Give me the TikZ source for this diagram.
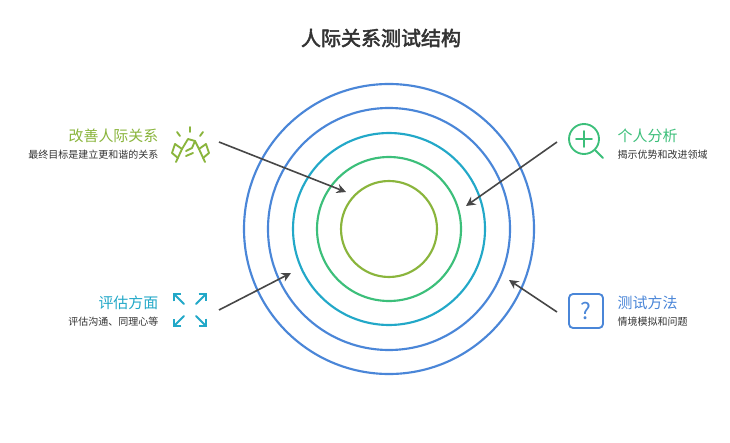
\documentclass[tikz,border=0pt]{standalone}
\usepackage{fontspec}
\setmainfont{Noto Sans CJK SC}[AutoFakeBold=2.5]
\usetikzlibrary{arrows.meta}
\definecolor{ringblue}{HTML}{4A86D8}
\definecolor{ringteal}{HTML}{22A8C8}
\definecolor{ringgreen}{HTML}{3CBF7A}
\definecolor{ringolive}{HTML}{8AB53C}
\definecolor{txtgray}{HTML}{333333}
\tikzset{
  ring/.style={line width=1.6pt},
  pointer/.style={-{Stealth[length=7pt,width=7pt]},line width=1.2pt,draw=txtgray!90},
  headL/.style={anchor=east,font=\fontsize{11.2}{13}\selectfont},
  headR/.style={anchor=west,font=\fontsize{11.2}{13}\selectfont},
  subL/.style={anchor=east,font=\fontsize{7.5}{9}\selectfont,text=txtgray},
  subR/.style={anchor=west,font=\fontsize{7.5}{9}\selectfont,text=txtgray},
  icon/.style={line width=1.4pt,line cap=round,line join=round}
}
\begin{document}
\begin{tikzpicture}[x=0.75pt,y=-0.75pt]
\useasboundingbox[fill=white] (0,0) rectangle (730,442);
% Title
\node[font=\bfseries\fontsize{15}{17}\selectfont,text=txtgray] (title) at (381,38) {人际关系测试结构};

% Rings
\coordinate (c) at (389,229);
\draw[ring,ringblue] (c) circle[radius=145];
\draw[ring,ringblue] (c) circle[radius=121];
\draw[ring,ringteal] (c) circle[radius=96];
\draw[ring,ringgreen] (c) circle[radius=72];
\draw[ring,ringolive] (c) circle[radius=48];

% Labels
\node[headL,text=ringolive] (gaishan) at (163,136) {改善人际关系};
\node[subL] (gaishansub) at (163,155) {最终目标是建立更和谐的关系};
\node[headL,text=ringteal] (pinggu) at (163,303) {评估方面};
\node[subL] (pinggusub) at (163,322) {评估沟通、同理心等};
\node[headR,text=ringgreen] (geren) at (613,136) {个人分析};
\node[subR] (gerensub) at (613,155) {揭示优势和改进领域};
\node[headR,text=ringblue] (ceshi) at (613,303) {测试方法};
\node[subR] (ceshisub) at (613,322) {情境模拟和问题};

% Pointers
\coordinate (a1) at (219,142); \coordinate (b1) at (346,192);
\coordinate (a2) at (557,142); \coordinate (b2) at (466,206);
\coordinate (a3) at (219,310); \coordinate (b3) at (291,273);
\coordinate (a4) at (557,312); \coordinate (b4) at (509,280);
\draw[pointer] (a1) -- (b1);
\draw[pointer] (a2) -- (b2);
\draw[pointer] (a3) -- (b3);
\draw[pointer] (a4) -- (b4);

% Icon: handshake
\begin{scope}[icon,ringolive]
\draw (190,127) -- (190,132) (177,132) -- (180,136) (203,132) -- (200,136);
\draw (176,162) -- (182,149) -- (188,139) -- (195,141) -- (192,148) -- (186,151);
\draw (205,162) -- (199,149) -- (195,141);
\draw (182,149) -- (175,144) -- (172,153) -- (178,158);
\draw (199,149) -- (206,144) -- (209,153) -- (203,158);
\draw (186,156) -- (193,153);
\end{scope}

% Icon: expand arrows
\begin{scope}[icon,ringteal,-{Straight Barb[length=4pt,width=8pt]}]
\draw (184,304) -- (173,293);
\draw (196,304) -- (207,293);
\draw (184,316) -- (173,327);
\draw (196,316) -- (207,327);
\end{scope}

% Icon: magnifier
\begin{scope}[icon,ringgreen]
\draw (584,139) circle[radius=15];
\draw (584,131) -- (584,147) (576,139) -- (592,139);
\draw (595,150) -- (603,158);
\end{scope}

% Icon: question box
\draw[icon,ringblue,rounded corners=3pt] (569,294) rectangle (603,328);
\node[text=ringblue,font=\fontsize{17}{19}\selectfont] (qmark) at (586,311) {?};
\end{tikzpicture}
\end{document}
